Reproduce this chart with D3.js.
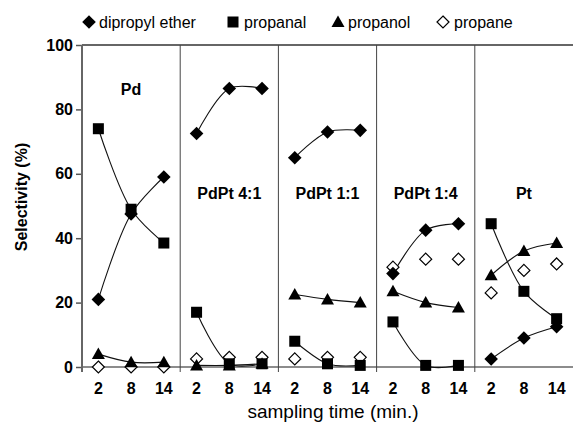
<!DOCTYPE html>
<html>
<head>
<meta charset="utf-8">
<script src="https://cdn.jsdelivr.net/npm/d3@7"></script>
<style>
  html, body { margin: 0; padding: 0; background: #fff; }
  text { font-family: "Liberation Sans", Arial, sans-serif; fill: #000; }
</style>
</head>
<body>
<div id="chart"></div>
<script>
'use strict'

// catalysts (panels) and sampling times
var catalysts = ['Pd', 'PdPt 4:1', 'PdPt 1:1', 'PdPt 1:4', 'Pt']
var times = [2, 8, 14]
var yTicks = [0, 20, 40, 60, 80, 100]

// selectivity (%) per catalyst, at 2, 8, 14 min
var ether    = [[21, 47.5, 59], [72.5, 86.5, 86.5], [65, 73, 73.5], [29, 42.5, 44.5], [2.5, 9, 12.5]]
var propanal = [[74, 49, 38.5], [17, 1, 1], [8, 1, 0.5], [14, 0.5, 0.5], [44.5, 23.5, 15]]
var propanol = [[4, 1.5, 1.5], [0.5, 0.5, 1], [22.5, 21, 20], [23.5, 20, 18.5], [28.5, 36, 38.5]]
var propane  = [[0, 0, 0], [2.5, 3, 3], [2.5, 3, 3], [31, 33.5, 33.5], [23, 30, 32]]

var series = [
    {name: 'dipropyl ether', values: ether, marker: 'diamond', line: true},
    {name: 'propanal', values: propanal, marker: 'square', line: true},
    {name: 'propanol', values: propanol, marker: 'triangle', line: true},
    {name: 'propane', values: propane, marker: 'open', line: false}
]

////////////////////////////////////
//////////// svg setup /////////////
////////////////////////////////////

var svgWidth = 573
var svgHeight = 426
var margin = {left: 82, right: 0, top: 45, bottom: 59}
var width = svgWidth - margin.left - margin.right
var height = svgHeight - margin.top - margin.bottom

var svg = d3.select('#chart').append('svg')
    .attr('width', svgWidth)
    .attr('height', svgHeight)
    .append('g')
    .attr('transform', 'translate(' + margin.left + ',' + margin.top + ')')

////////////////////////////////////
//////////////scales////////////////
////////////////////////////////////

var keys = []
catalysts.forEach(function(c) { times.forEach(function(t) { keys.push(c + '|' + t) }) })

var xScale = d3.scaleBand().domain(keys).range([0, width])
var yScale = d3.scaleLinear().domain([0, 100]).range([height, 0])

function cx(ci, ti) { return xScale(catalysts[ci] + '|' + times[ti]) + xScale.bandwidth() / 2 }

// y axis
var yAxis = svg.append('g')
    .call(d3.axisLeft(yScale).tickValues(yTicks).tickSize(6).tickPadding(3))
yAxis.select('.domain').remove()
yAxis.selectAll('.tick line').attr('stroke', '#555').attr('stroke-width', 1.5)
yAxis.selectAll('.tick text')
    .style('font-size', '16px').style('font-weight', 'bold')
    .style('font-family', '"Liberation Sans", Arial, sans-serif')

// frame lines
svg.append('line').attr('x1', 0).attr('x2', width).attr('y1', 0).attr('y2', 0)
    .attr('stroke', '#666').attr('stroke-width', 2)
svg.append('line').attr('x1', 0).attr('x2', 0).attr('y1', 0).attr('y2', height + 5)
    .attr('stroke', '#666').attr('stroke-width', 2)
svg.append('line').attr('x1', 0).attr('x2', width).attr('y1', height).attr('y2', height)
    .attr('stroke', '#666').attr('stroke-width', 1.5)

// panel dividers
svg.selectAll('.divider')
    .data(catalysts.slice(1))
    .enter()
    .append('line')
    .attr('class', 'divider')
    .attr('x1', function(c) { return xScale(c + '|' + times[0]) })
    .attr('x2', function(c) { return xScale(c + '|' + times[0]) })
    .attr('y1', 0)
    .attr('y2', height + 5)
    .attr('stroke', '#444')
    .attr('stroke-width', 1)

// x tick labels
svg.selectAll('.xlab')
    .data(keys)
    .enter()
    .append('text')
    .attr('class', 'xlab')
    .attr('x', function(k) { return xScale(k) + xScale.bandwidth() / 2 })
    .attr('y', height + 27)
    .attr('text-anchor', 'middle')
    .style('font-size', '16px')
    .style('font-weight', 'bold')
    .text(function(k) { return k.split('|')[1] })

// panel labels
svg.selectAll('.plab')
    .data(catalysts)
    .enter()
    .append('text')
    .attr('class', 'plab')
    .attr('x', function(c) { return xScale(c + '|' + times[1]) + xScale.bandwidth() / 2 })
    .attr('y', function(c, i) { return i == 0 ? 50 : 154 })
    .attr('text-anchor', 'middle')
    .style('font-size', '16px')
    .style('font-weight', 'bold')
    .text(function(c) { return c })

// axis titles
svg.append('text')
    .attr('transform', 'translate(' + (-55) + ',' + (152) + ') rotate(-90)')
    .attr('text-anchor', 'middle')
    .style('font-size', '16px')
    .style('font-weight', 'bold')
    .text('Selectivity (%)')

svg.append('text')
    .attr('x', 251)
    .attr('y', height + 51)
    .attr('text-anchor', 'middle')
    .style('font-size', '19px')
    .text('sampling time (min.)')

////////////////////////////////////
////////////// marks ///////////////
////////////////////////////////////

function drawMarker(g, type, x, y) {
    if (type == 'diamond') {
        g.append('path').attr('d', 'M0,-6.8L6.8,0L0,6.8L-6.8,0Z')
            .attr('transform', 'translate(' + x + ',' + y + ')').attr('fill', '#000')
    } else if (type == 'open') {
        g.append('path').attr('d', 'M0,-6L6,0L0,6L-6,0Z')
            .attr('transform', 'translate(' + x + ',' + y + ')')
            .attr('fill', '#fff').attr('stroke', '#000').attr('stroke-width', 1.2)
    } else if (type == 'square') {
        g.append('rect').attr('x', x - 5.5).attr('y', y - 5.5)
            .attr('width', 11).attr('height', 11).attr('fill', '#000')
    } else {
        g.append('path').attr('d', 'M0,-6.5L6.5,5L-6.5,5Z')
            .attr('transform', 'translate(' + x + ',' + y + ')').attr('fill', '#000')
    }
}

var line = d3.line()
    .x(function(d) { return d[0] })
    .y(function(d) { return d[1] })
    .curve(d3.curveCatmullRom.alpha(0.5))

var lineG = svg.append('g')
var markG = svg.append('g')

series.forEach(function(s) {
    catalysts.forEach(function(c, ci) {
        var pts = s.values[ci].map(function(v, ti) { return [cx(ci, ti), yScale(v)] })
        if (s.line) {
            lineG.append('path').attr('d', line(pts))
                .attr('fill', 'none').attr('stroke', '#111').attr('stroke-width', 1.1)
        }
    })
})

// draw in reverse so filled markers sit above open ones where they overlap
series.slice().reverse().forEach(function(s) {
    catalysts.forEach(function(c, ci) {
        s.values[ci].forEach(function(v, ti) {
            drawMarker(markG, s.marker, cx(ci, ti), yScale(v))
        })
    })
})

////////////////////////////////////
////////////// legend //////////////
////////////////////////////////////

var legendPos = [{m: 89, t: 99}, {m: 233, t: 244}, {m: 338, t: 348}, {m: 443, t: 454}]
var legend = d3.select('svg').append('g')

series.forEach(function(s, i) {
    drawMarker(legend, s.marker, legendPos[i].m, 22)
    legend.append('text')
        .attr('x', legendPos[i].t)
        .attr('y', 28)
        .style('font-size', '16px')
        .text(s.name)
})
</script>
</body>
</html>
